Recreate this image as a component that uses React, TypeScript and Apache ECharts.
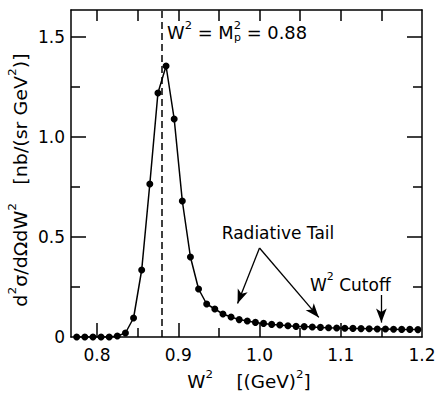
import React, { useEffect, useRef } from "react";
import * as echarts from "echarts";

// W^2 values (GeV^2) of the measured points
const W2 = [
  0.775, 0.785, 0.795, 0.805, 0.815, 0.825, 0.835, 0.845, 0.855, 0.865,
  0.875, 0.885, 0.895, 0.905, 0.915, 0.925, 0.935, 0.945, 0.955, 0.965,
  0.975, 0.985, 0.995, 1.005, 1.015, 1.025, 1.035, 1.045, 1.055, 1.065,
  1.075, 1.085, 1.095, 1.105, 1.115, 1.125, 1.135, 1.145, 1.155, 1.165,
  1.175, 1.185, 1.195,
];
// d2sigma/dOmega dW2 [nb/(sr GeV^2)]
const XSEC = [
  0.0, 0.0, 0.0, 0.0, 0.0, 0.005, 0.02, 0.095, 0.335, 0.765,
  1.22, 1.355, 1.09, 0.68, 0.4, 0.24, 0.165, 0.14, 0.115, 0.1,
  0.087, 0.08, 0.073, 0.068, 0.063, 0.06, 0.056, 0.053, 0.052, 0.05,
  0.048, 0.046, 0.045, 0.044, 0.043, 0.042, 0.041, 0.04, 0.04, 0.039,
  0.038, 0.038, 0.037,
];

const X_MIN = 0.768;
const X_MAX = 1.2;
const Y_MIN = 0;
const Y_MAX = 1.635;
const Y_LABEL_STEP = 0.5;
// tick positions (drawn inward on the frame)
const X_MAJOR_TICKS = [0.8, 0.9, 1.0, 1.1];
const X_MINOR_TICKS = [0.85, 0.95, 1.05, 1.15];
const X_TOP_TICKS = [0.8, 0.85, 0.9, 0.95, 1.0, 1.05, 1.1, 1.15];
const Y_MAJOR_TICKS = [0.5, 1.0, 1.5];
const Y_MINOR_TICKS = [0.25, 0.75, 1.25];

const PROTON_MASS_SQ = 0.88;
const CUTOFF = 1.15;
// annotation arrows [from, to] in data coordinates
const TAIL_ARROWS = [
  [[1.0, 0.445], [0.973, 0.168]],
  [[1.0, 0.445], [1.073, 0.098]],
];
const CUTOFF_ARROW = [[CUTOFF, 0.21], [CUTOFF, 0.072]];

const FONT = "DejaVu Sans";
const BLACK = "#000";

// layout
const WIDTH = 435;
const HEIGHT = 394;
const GRID = { left: 71, right: 13, top: 10, bottom: 57 };

const t = (size: number) => ({ fontSize: size, fontFamily: FONT, fill: BLACK });

export default function App() {
  const ref = useRef<HTMLDivElement>(null);
  useEffect(() => {
    if (!ref.current) return;
    const chart = echarts.init(ref.current, undefined, { renderer: "svg" });
    const rich = {
      m: { fontSize: 17, fontFamily: FONT, color: BLACK, lineHeight: 22, verticalAlign: "bottom" },
      s: { fontSize: 11, fontFamily: FONT, color: BLACK, lineHeight: 11, verticalAlign: "top" },
    };
    // pixel length -> data length along each axis
    const pxPerX = (WIDTH - GRID.left - GRID.right) / (X_MAX - X_MIN);
    const pxPerY = (HEIGHT - GRID.top - GRID.bottom) / (Y_MAX - Y_MIN);
    const tickStyle = { type: "solid", width: 1.5, color: BLACK };
    const seg = (a: number[], b: number[]) => [
      { coord: a, symbol: "none", lineStyle: tickStyle },
      { coord: b, symbol: "none" },
    ];
    const ticks = [
      ...X_MAJOR_TICKS.map((v) => seg([v, Y_MIN], [v, Y_MIN + 14 / pxPerY])),
      ...X_MINOR_TICKS.map((v) => seg([v, Y_MIN], [v, Y_MIN + 9 / pxPerY])),
      ...X_TOP_TICKS.map((v) => seg([v, Y_MAX], [v, Y_MAX - 11 / pxPerY])),
      ...Y_MAJOR_TICKS.map((v) => seg([X_MIN, v], [X_MIN + 15 / pxPerX, v])),
      ...Y_MINOR_TICKS.map((v) => seg([X_MIN, v], [X_MIN + 9 / pxPerX, v])),
      ...Y_MAJOR_TICKS.map((v) => seg([X_MAX, v], [X_MAX - 15 / pxPerX, v])),
      ...Y_MINOR_TICKS.map((v) => seg([X_MAX, v], [X_MAX - 9 / pxPerX, v])),
    ];
    const arrowLine = (pair: number[][]) => [
      { coord: pair[0], symbol: "none" },
      { coord: pair[1], symbol: "arrow", symbolSize: [8, 14] },
    ];
    chart.setOption({
      animation: false,
      backgroundColor: "#fff",
      grid: { ...GRID, containLabel: false, outerBoundsMode: "none" },
      xAxis: [
        {
          type: "value",
          min: X_MIN,
          max: X_MAX,
          position: "bottom",
          splitNumber: 4,
          axisLine: { show: true, onZero: false, lineStyle: { color: BLACK, width: 1.5 } },
          axisTick: { show: false },
          axisLabel: {
            show: true,
            showMinLabel: false,
            formatter: (v: number) => v.toFixed(1),
            fontSize: 17,
            fontFamily: FONT,
            color: BLACK,
            margin: 9,
          },
          splitLine: { show: false },
        },
        {
          type: "value",
          min: X_MIN,
          max: X_MAX,
          position: "top",
          axisLine: { show: true, onZero: false, lineStyle: { color: BLACK, width: 1.5 } },
          axisTick: { show: false },
          axisLabel: { show: false },
          splitLine: { show: false },
        },
      ],
      yAxis: [
        {
          type: "value",
          min: Y_MIN,
          max: Y_MAX,
          interval: Y_LABEL_STEP,
          position: "left",
          axisLine: { show: true, onZero: false, lineStyle: { color: BLACK, width: 1.5 } },
          axisTick: { show: false },
          axisLabel: {
            show: true,
            showMaxLabel: false,
            formatter: (v: number) => (v === 0 ? "0" : v.toFixed(1)),
            fontSize: 17,
            fontFamily: FONT,
            color: BLACK,
            margin: 6,
          },
          splitLine: { show: false },
        },
        {
          type: "value",
          min: Y_MIN,
          max: Y_MAX,
          interval: Y_LABEL_STEP,
          position: "right",
          axisLine: { show: true, onZero: false, lineStyle: { color: BLACK, width: 1.5 } },
          axisTick: { show: false },
          axisLabel: { show: false },
          splitLine: { show: false },
        },
      ],
      series: [
        {
          type: "line",
          xAxisIndex: 0,
          yAxisIndex: 0,
          data: W2.map((x, i) => [x, XSEC[i]]),
          symbol: "circle",
          symbolSize: 7,
          lineStyle: { color: BLACK, width: 1.5 },
          itemStyle: { color: BLACK },
          z: 3,
          markLine: {
            silent: true,
            symbol: ["none", "none"],
            label: { show: false },
            lineStyle: { color: BLACK, width: 1.3, type: "solid" },
            data: [
              { xAxis: PROTON_MASS_SQ, lineStyle: { type: [7, 4], width: 1.5, color: BLACK } },
              arrowLine(TAIL_ARROWS[0]),
              arrowLine(TAIL_ARROWS[1]),
              arrowLine(CUTOFF_ARROW),
              ...ticks,
            ],
          },
        },
      ],
      graphic: [
        // top annotation  W^2 = M_p^2 = 0.88
        {
          type: "text",
          x: 167,
          y: 31,
          scaleX: 1.05,
          style: { text: "{m|W}{s|2}{m| = M}{s|2}{m| = 0.88}", rich, align: "left", verticalAlign: "middle" },
        },
        { type: "text", x: 234, y: 37, style: { ...t(11), text: "p", verticalAlign: "middle" } },
        // Radiative tail label
        { type: "text", x: 278, y: 233, style: { ...t(17), text: "Radiative Tail", align: "center", verticalAlign: "middle" } },
        // cutoff label
        {
          type: "text",
          x: 310,
          y: 282,
          style: { text: "{m|W}{s|2}{m| Cutoff}", rich, align: "left", verticalAlign: "middle" },
        },
        // x axis name
        {
          type: "text",
          x: 249,
          y: 380,
          scaleX: 1.08,
          style: { text: "{m|W}{s|2}{m|    [(GeV)}{s|2}{m|]}", rich, align: "center", verticalAlign: "middle" },
        },
        // y axis name
        {
          type: "text",
          x: 18,
          y: 180,
          rotation: Math.PI / 2,
          scaleX: 1.12,
          style: {
            text: "{m|d}{s|2}{m|σ/dΩdW}{s|2}{m|   [nb/(sr GeV}{s|2}{m|)]}",
            rich,
            align: "center",
            verticalAlign: "middle",
          },
        },
      ],
    });
    return () => chart.dispose();
  }, []);
  return (
    <div
      ref={ref}
      style={{ position: "fixed", left: 0, top: 0, width: WIDTH, height: HEIGHT, background: "#fff" }}
    />
  );
}
